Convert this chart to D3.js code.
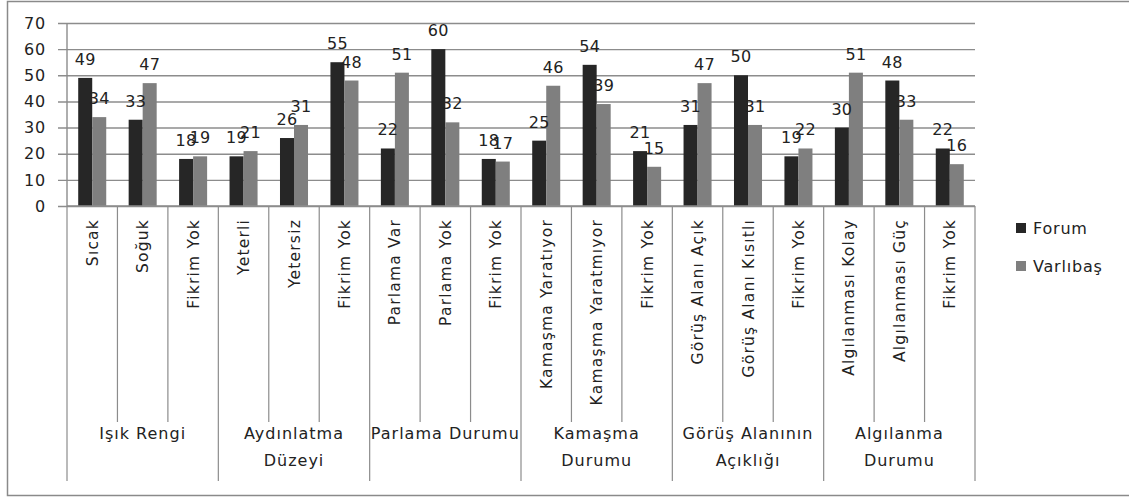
<!DOCTYPE html>
<html>
<head>
<meta charset="utf-8">
<script src="https://cdn.jsdelivr.net/npm/d3@7"></script>
<style>
  html, body { margin: 0; padding: 0; background: #ffffff; }
  svg { display: block; }
  text { font-family: "DejaVu Sans", Verdana, sans-serif; fill: #222222; }
</style>
</head>
<body>
<svg id="chart" width="1129" height="497"></svg>
<script>
// Response categories, grouped by question
const categories = [
  "Sıcak", "Soğuk", "Fikrim Yok",
  "Yeterli", "Yetersiz", "Fikrim Yok",
  "Parlama Var", "Parlama Yok", "Fikrim Yok",
  "Kamaşma Yaratıyor", "Kamaşma Yaratmıyor", "Fikrim Yok",
  "Görüş Alanı Açık", "Görüş Alanı Kısıtlı", "Fikrim Yok",
  "Algılanması Kolay", "Algılanması Güç", "Fikrim Yok"
];
const groups = [
  ["Işık Rengi"],
  ["Aydınlatma", "Düzeyi"],
  ["Parlama Durumu"],
  ["Kamaşma", "Durumu"],
  ["Görüş Alanının", "Açıklığı"],
  ["Algılanma", "Durumu"]
];
const groupSize = 3;
const seriesNames = ["Forum", "Varlıbaş"];
const forumValues = [49, 33, 18, 19, 26, 55, 22, 60, 18, 25, 54, 21, 31, 50, 19, 30, 48, 22];
const varlibasValues = [34, 47, 19, 21, 31, 48, 51, 32, 17, 46, 39, 15, 47, 31, 22, 51, 33, 16];
const yTicks = [0, 10, 20, 30, 40, 50, 60, 70];

const seriesValues = [forumValues, varlibasValues];
const colors = ["#262626", "#7f7f7f"];

const svg = d3.select("#chart");

// Outer frame
svg.append("path")
  .attr("d", "M1130,1.5 H7.5 V495.5 H1130")
  .attr("fill", "none").attr("stroke", "#8a8a8a").attr("stroke-width", 1.5);

const plotLeft = 67, plotRight = 975, plotTop = 23, plotBottom = 206;

const x = d3.scaleBand()
  .domain(d3.range(categories.length))
  .range([plotLeft, plotRight])
  .paddingInner(0).paddingOuter(0);

const xs = d3.scaleBand()
  .domain(d3.range(seriesNames.length))
  .range([0, x.bandwidth()])
  .paddingInner(0).paddingOuter(0.8);

const y = d3.scaleLinear().domain([0, 70]).range([plotBottom, plotTop]);

// Horizontal gridlines with small tick marks on the left
const yAxis = d3.axisLeft(y).tickValues(yTicks).tickSize(-(plotRight - plotLeft)).tickFormat("");
const gy = svg.append("g").attr("transform", `translate(${plotLeft},0)`).call(yAxis);
gy.select(".domain").remove();
gy.selectAll(".tick line")
  .attr("x1", -9)
  .attr("stroke", "#8c8c8c").attr("stroke-width", 1.4);

// Y tick labels
svg.append("g").selectAll("text")
  .data(yTicks).join("text")
  .attr("x", 46).attr("y", d => y(d))
  .attr("dy", "0.36em")
  .attr("text-anchor", "end")
  .style("font-size", "16px")
  .style("letter-spacing", "0.8px")
  .text(d => d);

// Vertical value axis line
svg.append("line")
  .attr("x1", plotLeft).attr("x2", plotLeft)
  .attr("y1", plotTop).attr("y2", plotBottom)
  .attr("stroke", "#8c8c8c").attr("stroke-width", 1.4);

// Bars
const barLayer = svg.append("g");
seriesValues.forEach((vals, s) => {
  barLayer.append("g").selectAll("rect")
    .data(vals).join("rect")
    .attr("x", (d, i) => x(i) + xs(s))
    .attr("y", d => y(d))
    .attr("width", xs.bandwidth())
    .attr("height", d => y(0) - y(d))
    .attr("fill", colors[s]);
});

// Value labels above bars
seriesValues.forEach((vals, s) => {
  svg.append("g").selectAll("text")
    .data(vals).join("text")
    .attr("x", (d, i) => x(i) + xs(s) + xs.bandwidth() / 2)
    .attr("y", d => y(d) - 13)
    .attr("text-anchor", "middle")
    .style("font-size", "16px")
    .style("letter-spacing", "0.3px")
    .text(d => d);
});

// Category axis: baseline, separators and rotated labels
const minorEnd = 422, groupEnd = 481;
svg.append("line")
  .attr("x1", plotLeft).attr("x2", plotRight)
  .attr("y1", plotBottom).attr("y2", plotBottom)
  .attr("stroke", "#8c8c8c").attr("stroke-width", 1.4);

const boundaries = d3.range(categories.length + 1);
svg.append("g").selectAll("line")
  .data(boundaries).join("line")
  .attr("x1", i => i < categories.length ? x(i) : plotRight)
  .attr("x2", i => i < categories.length ? x(i) : plotRight)
  .attr("y1", plotBottom)
  .attr("y2", i => i % groupSize === 0 ? groupEnd : minorEnd)
  .attr("stroke", "#8c8c8c").attr("stroke-width", 1.2);

svg.append("g").selectAll("text")
  .data(categories).join("text")
  .attr("transform", (d, i) => `translate(${x(i) + x.bandwidth() / 2},219) rotate(-90)`)
  .attr("text-anchor", "end")
  .attr("dy", "0.36em")
  .style("font-size", "15.5px")
  .style("letter-spacing", "1.2px")
  .text(d => d);

// Group labels centred under each block of categories
const groupText = svg.append("g").selectAll("text")
  .data(groups).join("text")
  .attr("x", (d, g) => (x(g * groupSize) + x(g * groupSize + groupSize - 1) + x.bandwidth()) / 2)
  .attr("y", 439)
  .attr("text-anchor", "middle")
  .style("font-size", "16px")
  .style("letter-spacing", "1px");
groupText.selectAll("tspan")
  .data(d => d).join("tspan")
  .attr("x", function () { return d3.select(this.parentNode).attr("x"); })
  .attr("dy", (d, k) => k === 0 ? 0 : 27)
  .text(d => d);

// Legend
const legend = svg.append("g").selectAll("g")
  .data(seriesNames).join("g")
  .attr("transform", (d, s) => `translate(1016,${223 + s * 38})`);
legend.append("rect")
  .attr("width", 10).attr("height", 10)
  .attr("fill", (d, s) => colors[s]);
legend.append("text")
  .attr("x", 17).attr("y", 11)
  .style("font-size", "16px")
  .style("letter-spacing", "0.8px")
  .text(d => d);
</script>
</body>
</html>
